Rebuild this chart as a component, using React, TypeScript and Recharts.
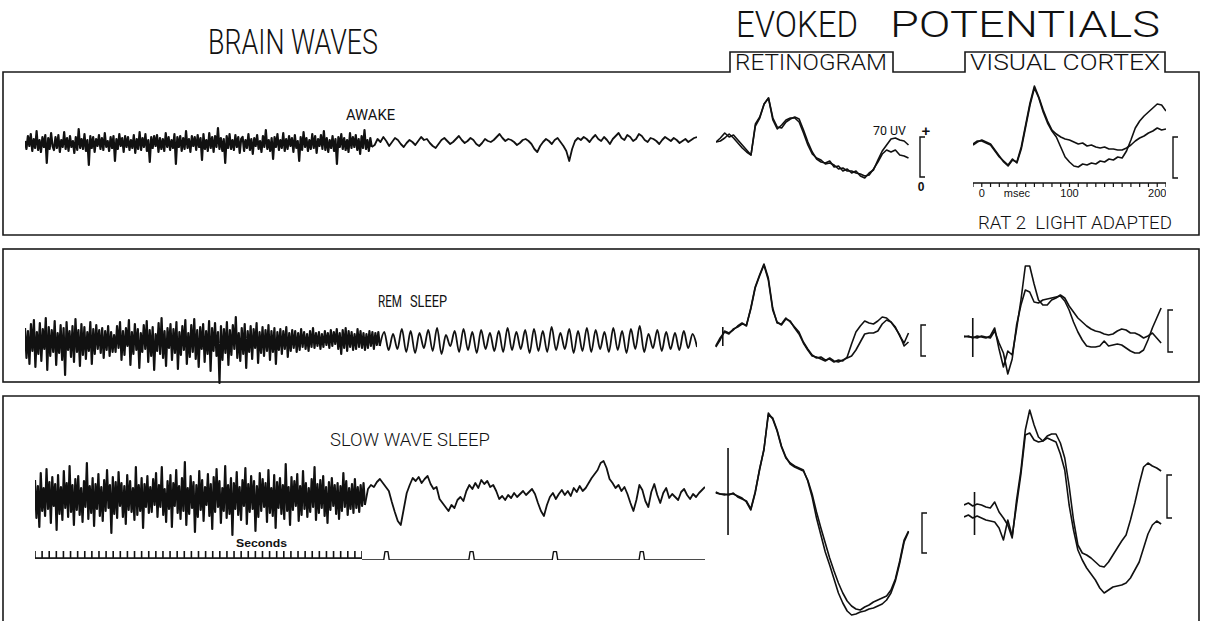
import React from 'react';
import { LineChart, Line, XAxis, YAxis } from 'recharts';

const INK = '#111';
const TITLE_FONT = 'Roboto, "DejaVu Sans", sans-serif';
const LABEL_FONT = '"Liberation Sans", Arial, sans-serif';

// brain waves: offsets from the trace centre (up = positive)
// left part recorded at slow paper speed, right part at fast speed
const awakeFast = [
  2, -6, 7, -3, 9, -8, 4, -5, 12, -7, 3, -9, 6, -4, 8, -20, 5, -6, 10, -3,
  -7, 6, -5, 8, -9, 3, -4, 11, -6, 5, -8, 7, -4, 2, -10, 6, -7, 14, -5, 4,
  -6, 9, -8, 3, -22, 7, -5, 6, -9, 4, -3, 8, -6, 5, -7, 10, -4, 2, -8, 6,
  -5, 7, -18, 4, -6, 9, -3, 5, -9, 7, -4, 6, -7, 3, -5, 8, -10, 4, -6, 11,
  -7, 5, -4, 9, -8, 3, -19, 6, -5, 7, -3, 8, -9, 5, -6, 4, -8, 10, -4, 6,
  -7, 3, -5, 9, -21, 6, -4, 7, -8, 5, -6, 12, -5, 4, -9, 7, -3, 6, -7, 8,
  -4, 5, -17, 9, -6, 3, -8, 10, -5, 6, -9, 7, -4, 15, -6, 5, -8, 4, -20, 7,
  -5, 9, -6, 3, -7, 8, -4, 6, -10, 4, 6, -8, 3, -5, 9, -7, 4, -11, 5, -3,
  8, -6, 2, -9, 7, -4, 13, -6, 3, -8, 5, -16, 6, -4, 9, -7, 3, -5, 10, -8,
  4, -6, 7, -3, 5, -9, 8, -5, 2, -18, 6, -7, 11, -4, 5, -8, 3, -6, 9, -5,
  7, -10, 4, -3, 8, -6, 12, -7, 5, -9, 3, -5, 7, -8, 4, -21, 6, -4, 9, -6,
  5, -7, 3, -9, 10, -5, 6, -4, 8, -7, 4, -11, 7, -5, 13, -6, 3, -8, 5, -4,
];
const awakeSlow = [
  -2, 4, 1, 6, 2, -3, 1, 5, 3, -1, -4, 0, 3, 1, -2, 2, 6, 3, 4, 0, -3, -5,
  -1, 3, 5, 2, -1, 1, 4, 7, 3, 0, 2, 5, 3, -1, -3, 0, 4, 2, 1, 3,
  6, 9, 5, 2, 4, 3, 1, -2, 0, 3, 4, 2, -1, -6, -9, -3, 1, 4, 2, -1,
  3, 5, 1, -3, -8, -18, -6, 2, 5, 3, 6, 4, 1, 5, 8, 4, 2, 6, 3, -1,
  4, 7, 10, 5, 3, 8, 6, 2, 4, 9, 7, 3, 1, 5, 4, 2, -1, 3, 6, 4,
  2, 5, 3, 0, 2, 4, 1, 3, 5, 6,
];
const remFast = [
  12, -18, 9, -24, 16, -11, 20, -27, 8, -14, 17, -21, 11, -9, 22, -30, 13, -16, 10, -12,
  19, -25, 7, -13, 15, -20, 12, -35, 18, -10, 9, -17, 14, -22, 21, -12, 10, -26, 16, -15,
  13, -19, 8, -11, 18, -24, 11, -14, 15, -9, 10, -13, 12, -18, 9, -10, 14, -16, 8, -12,
  5, -12, 14, -8, 18, -20, 9, -15, 12, -6, 20, -25, 8, -14, 16, -10, 11, -28, 7, -12,
  15, -9, 19, -22, 10, -16, 13, -30, 6, -11, 17, -14, 22, -18, 9, -26, 12, -8, 16, -20,
  11, -13, 18, -29, 8, -15, 14, -10, 20, -24, 7, -17, 15, -12, 21, -19, 10, -27, 13, -9,
  16, -22, 9, -14, 19, -31, 12, -11, 17, -16, 8, -43, 14, -20, 11, -13, 18, -25, 10, -15,
  15, -9, 23, -18, 7, -21, 12, -14, 16, -28, 9, -12, 14, -19, 11, -8, 17, -23, 8, -13,
  13, -16, 10, -11, 15, -20, 9, -12, 12, -24, 8, -10, 11, -14, 9, -9, 13, -17, 7, -11,
  10, -8, 9, -12, 7, -10, 11, -7, 8, -9, 6, -11, 9, -7, 12, -8, 7, -6, 8, -9,
  6, -7, 9, -5, 7, -8, 10, -6, 8, -4, 11, -9, 7, -14, 10, -8, 12, -11, 9, -7,
  8, -10, 6, -9, 11, -7, 9, -8, 7, -10, 6, -8, 9, -6, 8, -9, 7, -5, 8, -6,
];
const remSlow = [
  8, -10, 6, -9, 11, -12, 9, -13, 7, -8, 10, -11, 12, -14, 5, -6, 9, -12, 11, -10,
  8, -13, 10, -9, 7, -11, 9, -12, 12, -10, 8, -9, 10, -13, 11, -11, 9, -12, 13, -10,
  7, -9, 11, -13, 9, -11, 12, -12, 10, -9, 8, -12, 12, -10, 9, -13, 11, -9, 14, -12,
  6, -8, 10, -11, 8, -9, 7, -10, 9, -8, 6, -7,
];
const swsFast = [
  17, -21, 11, -30, 24, -14, 9, -19, 28, -12, 15, -26, 20, -9, 13, -33, 22, -17, 10, -23,
  26, -11, 14, -20, 31, -15, 12, -28, 18, -13, 21, -18, 9, -25, 16, -10, 34, -22, 11, -16,
  19, -29, 13, -12, 23, -19, 10, -24, 17, -14, 27, -11, 12, -36, 20, -17, 15, -21, 25, -9,
  14, -20, 11, -27, 22, -13, 16, -15, 9, -23, 30, -18, 12, -14, 19, -31, 13, -10, 21, -16,
  10, -15, 18, -8, 24, -20, 12, -10, 30, -18, 8, -25, 16, -12, 22, -30, 14, -9, 27, -16,
  11, -22, 19, -14, 35, -28, 9, -17, 21, -11, 15, -35, 12, -20, 26, -13, 17, -24, 10, -8,
  23, -19, 13, -32, 20, -15, 28, -10, 16, -26, 9, -14, 31, -21, 12, -17, 19, -38, 14, -12,
  25, -18, 10, -23, 17, -9, 29, -27, 13, -15, 21, -12, 16, -34, 11, -20, 24, -14, 18, -10,
  14, -25, 27, -16, 9, -19, 22, -31, 15, -11, 19, -17, 12, -22, 33, -14, 10, -28, 20, -13,
  16, -9, 23, -24, 11, -18, 26, -12, 14, -20, 9, -15, 18, -10, 30, -23, 13, -16, 17, -11,
  21, -19, 10, -26, 15, -13, 19, -9, 12, -17, 14, -22, 11, -14, 24, -10, 16, -18, 9, -12,
  13, -16, 18, -11, 10, -15, 12, -9, 14, -8,
];
const swsSlow = [
  8, 12, 10, 15, 18, 14, 10, 6, -5, -15, -24, -28, -12, 4, 12, 19, 16, 20, 14, 18,
  21, 13, 8, 10, -2, -6, -10, -14, -8, -11, -3, 0, -4, 6, 12, 8, 14, 9, 17, 13,
  16, 10, 12, 6, -2, 1, -3, 2, -1, 4, 0, 3, 6, 2, 5, 8, 3, -6, -14, -19,
  -8, 0, 4, -2, 3, 7, 2, 6, 1, 9, 5, 11, 6, 9, 14, 19, 23, 27, 34, 36,
  29, 18, 14, 9, 12, 6, 10, 3, -6, -14, -3, 12, 7, -4, -10, 5, 13, 2, -6, 4,
  9, -1, 3, 0, -3, 5, 8, 2, -2, 3, 0, 4, 7, 10,
];

// evoked potentials: one sample every 5 ms, offset from the pre-stimulus level
const ret1A = [0, 4, 9, 5, 7, 2, -3, -8, -13, 18, 25, 38, 44, 24, 15, 14, 20, 23, 25, 23, 12, 0, -10, -17, -20, -21, -19, -25, -24, -29, -27, -31, -29, -34, -36, -31, -28, -18, -9, -3, 3, 4, 2, 1, -3];
const ret1B = [0, 1, 4, 8, 4, -1, -6, -10, -13, 16, 24, 38, 44, 22, 13, 17, 22, 24, 24, 20, 9, -3, -12, -16, -18, -22, -21, -23, -27, -26, -29, -29, -31, -32, -34, -33, -27, -20, -12, -8, -10, -8, -13, -14, -16];
const vc1A = [0, 3, 5, 3, 1, -5, -11, -17, -21, -15, -17, -2, 20, 42, 59, 48, 35, 24, 15, 11, 8, 6, 5, 3, 1, 2, -1, 0, -2, -3, -2, -4, -4, -5, -5, -3, 0, 4, 7, 9, 12, 14, 17, 15, 16];
const vc1B = [1, 4, 4, 2, 0, -6, -12, -16, -20, -14, -18, -4, 18, 40, 57, 47, 33, 22, 14, 8, -2, -12, -17, -21, -22, -19, -20, -18, -19, -16, -17, -14, -15, -12, -13, -6, 5, 17, 24, 29, 33, 37, 41, 40, 34];
const ret2A = [-7, 0, 9, 7, 10, 14, 17, 14, 32, 53, 65, 76, 62, 32, 17, 16, 22, 18, 13, 8, -2, -9, -15, -18, -17, -20, -19, -22, -20, -21, -17, -4, 8, 14, 19, 17, 16, 19, 23, 22, 18, 13, 4, -3, 7];
const ret2B = [-6, 2, 8, 6, 11, 13, 16, 15, 31, 52, 64, 75, 60, 30, 18, 15, 21, 19, 12, 6, -3, -10, -16, -17, -19, -21, -18, -21, -22, -20, -18, -16, -10, -2, 6, 7, 7, 9, 16, 20, 18, 12, 5, -6, -2];
const vc2A = [0, 1, -1, 1, 0, -1, 1, 9, -12, -30, -14, -18, 8, 37, 71, 71, 53, 37, 32, 32, 37, 39, 42, 39, 31, 25, 19, 15, 11, 8, 6, 5, 3, 2, 3, 6, 8, 7, 4, 4, 2, -1, 1, 4, -1, -6];
const vc2B = [1, 0, 0, -1, 1, 0, -1, 6, -6, -16, -37, -22, 12, 32, 47, 45, 35, 34, 37, 38, 39, 40, 41, 36, 27, 15, 5, -3, -9, -10, -10, -9, -4, -9, -8, -7, -8, -11, -14, -16, -16, -13, -3, 9, 19, 29];
const ret3A = [2, 1, 0, 1, 1, -1, -3, -7, -15, 2, 26, 45, 82, 76, 64, 48, 37, 32, 29, 27, 25, 14, -2, -23, -40, -57, -70, -84, -98, -108, -116, -120, -119, -117, -116, -114, -113, -111, -109, -105, -98, -86, -68, -47, -37];
const ret3B = [3, 1, 1, 0, 2, -2, -4, -6, -14, 3, 25, 46, 80, 77, 65, 49, 38, 31, 28, 26, 24, 15, 1, -17, -33, -48, -63, -76, -88, -98, -106, -111, -114, -115, -112, -110, -107, -105, -103, -101, -95, -84, -66, -45, -36];
const vc3A = [5, 7, 4, 6, 5, 3, 2, 8, -2, -8, -15, -28, 10, 40, 80, 100, 85, 73, 69, 74, 76, 76, 67, 52, 24, -10, -35, -43, -45, -48, -52, -56, -57, -52, -45, -38, -31, -25, -10, 7, 26, 43, 47, 44, 42, 39];
const vc3B = [-7, -5, -8, -6, -8, -10, -11, -12, -18, -30, -10, -26, 5, 36, 75, 77, 70, 68, 69, 72, 70, 68, 56, 40, 5, -20, -40, -50, -58, -64, -70, -78, -83, -80, -77, -76, -75, -73, -68, -60, -52, -38, -24, -15, -11, -14];

// stimulus artefacts: [ms, top, bottom]
const ret2Artefact = [-2, 13, -6];
const vc2Artefact = [-10, 19, -20];
const ret3Artefact = [4, 47, -40];
const vc3Artefact = [-8, 18, -25];

const msTicks = [-10, 0, 10, 20, 30, 40, 50, 60, 70, 80, 90, 100, 110, 120, 130, 140, 150, 160, 170, 180, 190, 200, 210];
const msLabels: Record<number, string> = { 0: '0', 40: 'msec', 100: '100', 200: '200' };
const secondTicks = Array.from({ length: 47 }, (_, i) => i);
const secondPulses = [0.27, 1.27, 2.25, 3.27];

type Pt = { t: number; v: number };

const fastPoints = (fast: number[], split: number): Pt[] =>
  fast.map((v, i) => ({ t: (i / (fast.length - 1)) * split, v }));
const slowPoints = (fast: number[], slow: number[], split: number): Pt[] => [
  { t: split, v: fast[fast.length - 1] },
  ...slow.map((v, i) => ({ t: split + ((i + 1) / slow.length) * (1 - split), v })),
];
const epPoints = (values: number[], start: number): Pt[] => values.map((v, i) => ({ t: start + i * 5, v }));
const artefactPoints = ([t, hi, lo]: number[]): Pt[] => [{ t, v: hi }, { t, v: lo }];
const pulsePoints = (): Pt[] => {
  const pts: Pt[] = [{ t: 0, v: 0 }];
  secondPulses.forEach((p) => {
    pts.push({ t: p - 0.015, v: 0 }, { t: p, v: 1 }, { t: p + 0.035, v: 1 }, { t: p + 0.05, v: 0 });
  });
  pts.push({ t: 4.03, v: 0 });
  return pts;
};

type Curve = 'linear' | 'monotone';

interface TraceProps {
  left: number;
  top: number;
  width: number;
  height: number;
  xDomain: [number, number];
  yDomain: [number, number];
  series: { data: Pt[]; width?: number; curve?: Curve }[];
  children?: React.ReactNode;
}

const Trace: React.FC<TraceProps> = ({ left, top, width, height, xDomain, yDomain, series, children }) => (
  <div style={{ position: 'absolute', left, top }}>
    <LineChart width={width} height={height} margin={{ top: 0, right: 0, bottom: 0, left: 0 }}>
      {children ?? <XAxis type="number" dataKey="t" domain={xDomain} hide allowDataOverflow />}
      <YAxis type="number" domain={yDomain} hide allowDataOverflow />
      {series.map((s, i) => (
        <Line
          key={i}
          data={s.data}
          dataKey="v"
          type={s.curve ?? 'linear'}
          stroke={INK}
          strokeWidth={s.width ?? 1.6}
          strokeLinejoin="round"
          dot={false}
          activeDot={false}
          isAnimationActive={false}
        />
      ))}
    </LineChart>
  </div>
);

const eegSeries = (fast: number[], slow: number[], split: number, curve: Curve) => [
  { data: fastPoints(fast, split), width: 2.2 },
  { data: slowPoints(fast, slow, split), width: 1.8, curve },
];

const bracket = (x: number, y1: number, y2: number) => `M${x + 5} ${y1} H${x} V${y2} H${x + 5}`;

const EP_DOMAIN: [number, number] = [-20, 214];
const emptyTick = () => <g />;

const App: React.FC = () => {
  const stroke = { fill: 'none', stroke: '#1a1a1a', strokeWidth: 1.6 };
  return (
    <div style={{ position: 'absolute', left: 0, top: 0, width: 1205, height: 621, overflow: 'hidden', background: '#fff' }}>
      <svg width={1205} height={621} style={{ position: 'absolute', left: 0, top: 0 }}>
        <g fontFamily={TITLE_FONT} fill={INK} fontWeight={300}>
          <text x={208} y={54} fontSize={35} textLength={170} lengthAdjust="spacingAndGlyphs">BRAIN WAVES</text>
          <text x={736} y={37} fontSize={37} textLength={122} lengthAdjust="spacingAndGlyphs">EVOKED</text>
          <text x={890} y={37} fontSize={37} textLength={270} lengthAdjust="spacingAndGlyphs">POTENTIALS</text>
          <text x={735} y={70} fontSize={22} textLength={152} lengthAdjust="spacingAndGlyphs">RETINOGRAM</text>
          <text x={970} y={70} fontSize={22} textLength={190} lengthAdjust="spacingAndGlyphs">VISUAL CORTEX</text>
          <text x={330} y={446} fontSize={19} textLength={160} lengthAdjust="spacingAndGlyphs">SLOW WAVE SLEEP</text>
          <text x={978} y={229} fontSize={19} textLength={194} lengthAdjust="spacingAndGlyphs" xmlSpace="preserve" style={{ whiteSpace: 'pre' }}>RAT 2  LIGHT ADAPTED</text>
        </g>
        <g fontFamily={TITLE_FONT} fill={INK}>
          <text x={346} y={120} fontSize={15} textLength={49} lengthAdjust="spacingAndGlyphs">AWAKE</text>
          <text x={378} y={307} fontSize={16} textLength={24} lengthAdjust="spacingAndGlyphs">REM</text>
          <text x={410} y={307} fontSize={16} textLength={37} lengthAdjust="spacingAndGlyphs">SLEEP</text>
          <text x={873} y={135} fontSize={13} textLength={33} lengthAdjust="spacingAndGlyphs">70 UV</text>
        </g>
        <g fontFamily={LABEL_FONT} fill={INK} fontWeight={700}>
          <text x={926} y={136} fontSize={15} textAnchor="middle">+</text>
          <text x={921} y={191} fontSize={12} textAnchor="middle">0</text>
          <text x={236} y={547} fontSize={11} textLength={51} lengthAdjust="spacingAndGlyphs">Seconds</text>
        </g>
        <path d="M3 72 H730 V52 H893 V72 H965 V52 H1165 V72 H1199 V235 H3 Z" {...stroke} />
        <rect x={3} y={249} width={1196} height={133} {...stroke} />
        <path d="M3 621 V396 H1199 V621" {...stroke} />
        <g fill="none" stroke={INK} strokeWidth={1.4}>
          <path d={bracket(920, 137, 177)} />
          <path d={bracket(1173, 137, 178)} />
          <path d={bracket(921, 325, 356)} />
          <path d={bracket(1168, 310, 352)} />
          <path d={bracket(922, 513, 553)} />
          <path d={bracket(1167, 475, 518)} />
        </g>
      </svg>

      {/* brain waves */}
      <Trace left={25} top={103} width={672} height={80} xDomain={[0, 1]} yDomain={[-40, 40]}
        series={eegSeries(awakeFast, awakeSlow, 0.516, 'linear')} />
      <Trace left={25} top={290} width={672} height={100} xDomain={[0, 1]} yDomain={[-50, 50]}
        series={eegSeries(remFast, remSlow, 0.528, 'monotone')} />
      <Trace left={35} top={447} width={670} height={100} xDomain={[0, 1]} yDomain={[-50, 50]}
        series={eegSeries(swsFast, swsSlow, 0.4925, 'linear')} />

      {/* seconds marker */}
      <Trace left={35} top={546} width={327} height={14} xDomain={[0, 46]} yDomain={[0, 1]}
        series={[{ data: [{ t: 0, v: 1 }, { t: 46, v: 1 }], width: 1.6 }]}>
        <XAxis type="number" dataKey="t" orientation="top" domain={[0, 46]} ticks={secondTicks} interval={0} height={12}
          tick={emptyTick} tickSize={7} tickLine={{ stroke: INK, strokeWidth: 1.6 }} axisLine={{ stroke: INK, strokeWidth: 1.6 }} />
      </Trace>
      <Trace left={362} top={550} width={343} height={10} xDomain={[0, 4.03]} yDomain={[0, 1.2]}
        series={[{ data: pulsePoints(), width: 1.4 }]} />

      {/* evoked potentials, awake */}
      <Trace left={716} top={85} width={196} height={100} xDomain={[-10, 214]} yDomain={[-43, 57]}
        series={[{ data: epPoints(ret1A, -10) }, { data: epPoints(ret1B, -10) }]} />
      <Trace left={973} top={75} width={193} height={134} xDomain={[-10, 210]} yDomain={[-38, 70]}
        series={[{ data: epPoints(vc1A, -10) }, { data: epPoints(vc1B, -10) }]}>
        <XAxis type="number" dataKey="t" domain={[-10, 210]} ticks={msTicks} interval={0} height={26}
          tickSize={4} tickFormatter={(v: number) => msLabels[v] ?? ''}
          tick={{ fontSize: 11, fill: INK, fontFamily: LABEL_FONT }}
          tickLine={{ stroke: INK, strokeWidth: 1.2 }} axisLine={{ stroke: INK, strokeWidth: 1.4 }} />
      </Trace>

      {/* REM sleep */}
      <Trace left={707} top={255} width={205} height={120} xDomain={EP_DOMAIN} yDomain={[-35, 85]}
        series={[{ data: epPoints(ret2A, -10) }, { data: epPoints(ret2B, -10) }, { data: artefactPoints(ret2Artefact) }]} />
      <Trace left={964} top={255} width={205} height={125} xDomain={EP_DOMAIN} yDomain={[-43, 82]}
        series={[{ data: epPoints(vc2A, -20) }, { data: epPoints(vc2B, -20) }, { data: artefactPoints(vc2Artefact) }]} />

      {/* slow wave sleep */}
      <Trace left={707} top={405} width={205} height={216} xDomain={EP_DOMAIN} yDomain={[-126, 90]}
        series={[{ data: epPoints(ret3A, -10) }, { data: epPoints(ret3B, -10) }, { data: artefactPoints(ret3Artefact) }]} />
      <Trace left={964} top={400} width={205} height={200} xDomain={EP_DOMAIN} yDomain={[-90, 110]}
        series={[{ data: epPoints(vc3A, -20) }, { data: epPoints(vc3B, -20) }, { data: artefactPoints(vc3Artefact) }]} />
    </div>
  );
};

export default App;
